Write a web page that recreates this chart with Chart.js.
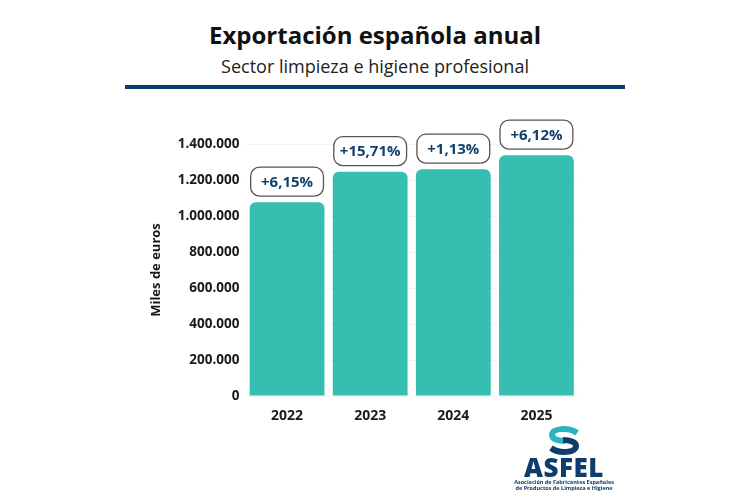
<!DOCTYPE html>
<html lang="es">
<head>
<meta charset="utf-8">
<title>Exportación española anual</title>
<script src="https://cdn.jsdelivr.net/npm/chart.js@4.4.1/dist/chart.umd.min.js"></script>
<style>
    html, body { margin: 0; padding: 0; background: #fff; }
    body { width: 750px; height: 500px; position: relative; overflow: hidden; font-family: "Open Sans", sans-serif; }
    #chart { position: absolute; left: 0; top: 0; }
    .title { position: absolute; left: 0; width: 750px; text-align: center; line-height: 1; color: #111; white-space: nowrap; }
    #mainTitle { top: 23px; font-size: 24px; font-weight: 700; }
    #subTitle { top: 57px; font-size: 18px; font-weight: 400; color: #222; }
    #rule { position: absolute; left: 125px; top: 85px; width: 500px; height: 4px; background: #0d3d6b; }
    #logo { position: absolute; left: 514px; top: 426px; width: 100px; text-align: center; color: #0d3d6b; }
    #logo svg { display: block; margin: 0 auto; }
    #logo .name { font-size: 26px; font-weight: 800; line-height: 22px; letter-spacing: 0.5px; margin-top: 1px; }
    #logo .small { font-size: 5.5px; font-weight: 700; line-height: 6px; margin-top: 1px; }
</style>
</head>
<body>
<div class="title" id="mainTitle">Exportación española anual</div>
<div class="title" id="subTitle">Sector limpieza e higiene profesional</div>
<div id="rule"></div>
<canvas id="chart" width="750" height="500"></canvas>
<div id="logo">
    <svg width="36" height="29" viewBox="0 0 36 29">
        <path d="M31 7 C23 1, 6 2, 6 9 C6 13, 12 15, 19 15" fill="none" stroke="#2bb3c0" stroke-width="6"/>
        <path d="M5 22 C13 28, 30 27, 30 20 C30 16, 24 14, 17 14" fill="none" stroke="#0d3d6b" stroke-width="6"/>
    </svg>
    <div class="name">ASFEL</div>
    <div class="small">Asociación de Fabricantes Españoles<br>de Productos de Limpieza e Higiene</div>
</div>
<script>
// Datos
const years = ['2022', '2023', '2024', '2025'];
const exportValues = [1077000, 1246000, 1260000, 1338000];
const growthLabels = ['+6,15%', '+15,71%', '+1,13%', '+6,12%'];
const yMax = 1400000;
const yStep = 200000;

const BAR_COLOR = '#35bfb1';
const NAVY = '#12416e';

function formatThousands(v) {
    return String(v).replace(/\B(?=(\d{3})+(?!\d))/g, '.');
}

// Draw the rounded boxes with the growth % above each bar
const growthBoxes = {
    id: 'growthBoxes',
    afterDatasetsDraw(chart) {
        const ctx = chart.ctx;
        const meta = chart.getDatasetMeta(0);
        ctx.save();
        meta.data.forEach((bar, i) => {
            const w = bar.width - 2;
            const h = 29;
            const x = bar.x - w / 2;
            const y = bar.y - 6 - h;
            ctx.beginPath();
            ctx.roundRect(x, y, w, h, 9);
            ctx.fillStyle = '#fff';
            ctx.fill();
            ctx.lineWidth = 1.3;
            ctx.strokeStyle = '#555';
            ctx.stroke();
            ctx.fillStyle = NAVY;
            ctx.font = '700 15px "Open Sans"';
            ctx.textAlign = 'center';
            ctx.textBaseline = 'middle';
            ctx.fillText(growthLabels[i], bar.x, y + h / 2 + 1);
        });
        ctx.restore();
    }
};

const ctx = document.getElementById('chart');
new Chart(ctx, {
    type: 'bar',
    data: {
        labels: years,
        datasets: [{
            data: exportValues,
            backgroundColor: BAR_COLOR,
            borderRadius: 6,
            borderSkipped: 'start',
            barPercentage: 0.9,
            categoryPercentage: 1
        }]
    },
    options: {
        responsive: false,
        animation: false,
        layout: {
            padding: { left: 140, right: 172, top: 144, bottom: 79 }
        },
        plugins: {
            legend: { display: false },
            tooltip: { enabled: false }
        },
        scales: {
            x: {
                grid: { display: false },
                border: { display: false },
                ticks: {
                    color: '#1a1a1a',
                    font: { family: 'Open Sans', size: 14, weight: '700' },
                    padding: 4
                },
                afterFit(scale) { scale.height = 25; }
            },
            y: {
                min: 0,
                max: yMax,
                grid: { color: 'rgba(0,0,0,0.045)', drawTicks: false },
                border: { display: false },
                ticks: {
                    stepSize: yStep,
                    padding: 6,
                    color: '#1a1a1a',
                    font: { family: 'Open Sans', size: 13.5, weight: '700' },
                    callback: (v) => formatThousands(v)
                },
                title: {
                    display: true,
                    text: 'Miles de euros',
                    color: '#1a1a1a',
                    font: { family: 'Open Sans', size: 13, weight: '700' },
                    padding: { top: 8, bottom: 0 }
                },
                afterFit(scale) { scale.width = 105.5; }
            }
        }
    },
    plugins: [growthBoxes]
});
</script>
</body>
</html>
